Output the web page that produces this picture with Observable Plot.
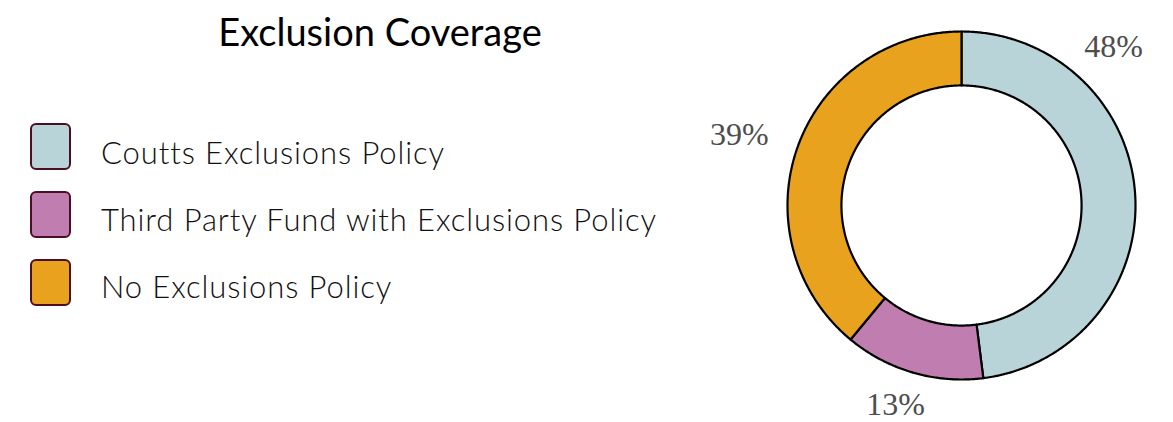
<!DOCTYPE html>
<html><head><meta charset="utf-8">
<script src="https://cdn.jsdelivr.net/npm/d3@7"></script>
<script src="https://cdn.jsdelivr.net/npm/@observablehq/plot@0.6"></script>
<style>
html,body{margin:0;padding:0;background:#fff;}
#wrap{position:relative;width:1173px;height:422px;overflow:hidden;font-family:Lato,"Noto Sans",sans-serif;}
#title{position:absolute;left:0;width:760px;text-align:center;top:9px;font-size:38px;line-height:1.2;color:#000;white-space:nowrap;}
.box{position:absolute;left:30px;width:37px;height:43px;border:2.5px solid #4a1022;border-radius:6px;}
.lab{position:absolute;left:101px;font-size:31px;letter-spacing:0.9px;line-height:1.2;font-weight:300;color:#111;white-space:nowrap;}
#chart{position:absolute;left:700px;top:0;}
</style>
</head><body>
<div id="wrap">
  <div id="title"></div>
  <div id="legend"></div>
  <div id="chart"></div>
</div>
<script>
const chartTitle = "Exclusion Coverage";
const categories = ["Coutts Exclusions Policy", "Third Party Fund with Exclusions Policy", "No Exclusions Policy"];
const shares = [48, 13, 39];
const colors = ["#b9d4d9", "#c07db0", "#e8a21e"];
const percentLabels = ["48%", "13%", "39%"];

document.getElementById("title").textContent = chartTitle;
const legend = document.getElementById("legend");
categories.forEach((c, i) => {
  const b = document.createElement("div");
  b.className = "box";
  b.style.top = (123 + 68 * i) + "px";
  b.style.background = colors[i];
  legend.appendChild(b);
  const t = document.createElement("div");
  t.className = "lab";
  t.style.top = (134 + 67 * i) + "px";
  t.textContent = c;
  legend.appendChild(t);
});

// geometry (units: outer radius = 1)
const PX = 174;               // pixels per unit
const W = 473, H = 422;
const cx = 261, cy = 205;     // donut centre inside the plot, px
const rOuter = 1, rInner = 0.69;
const total = d3.sum(shares);
let acc = 0;
const slices = shares.map((v, i) => {
  const a0 = acc / total * 2 * Math.PI;
  acc += v;
  const a1 = acc / total * 2 * Math.PI;
  return {i, a0, a1, mid: (a0 + a1) / 2};
});
function ring(s) {
  const n = Math.max(2, Math.ceil((s.a1 - s.a0) / (Math.PI / 360)));
  const pts = [];
  for (let k = 0; k <= n; k++) {
    const a = s.a0 + (s.a1 - s.a0) * k / n;
    pts.push({x: rOuter * Math.sin(a), y: rOuter * Math.cos(a)});
  }
  for (let k = n; k >= 0; k--) {
    const a = s.a0 + (s.a1 - s.a0) * k / n;
    pts.push({x: rInner * Math.sin(a), y: rInner * Math.cos(a)});
  }
  pts.push(pts[0]);
  return pts;
}
const xMax = (W - cx) / PX;
const labelData = slices.map(s => {
  let th = s.mid;
  const rx = (204 + 32) / PX, ry = (204 + 4) / PX;
  const limit = xMax - 60 / PX;
  if (rx * Math.sin(th) > limit) th = Math.asin(limit / rx);
  return {x: rx * Math.sin(th), y: ry * Math.cos(th), text: percentLabels[s.i]};
});

const plot = Plot.plot({
  width: W, height: H, margin: 0,
  x: {domain: [-cx / PX, (W - cx) / PX], axis: null},
  y: {domain: [-(H - cy) / PX, cy / PX], axis: null},
  style: {background: "transparent", overflow: "visible"},
  marks: [
    ...slices.map(s => Plot.line(ring(s), {x: "x", y: "y", fill: colors[s.i], stroke: "#000", strokeWidth: 2.2, curve: "linear"})),
    Plot.text(labelData, {x: "x", y: "y", text: "text", fontFamily: "Liberation Serif", fontSize: 32, fill: "#4d4d4d", textAnchor: "middle", lineAnchor: "middle"})
  ]
});
document.getElementById("chart").appendChild(plot);
</script>
</body></html>
